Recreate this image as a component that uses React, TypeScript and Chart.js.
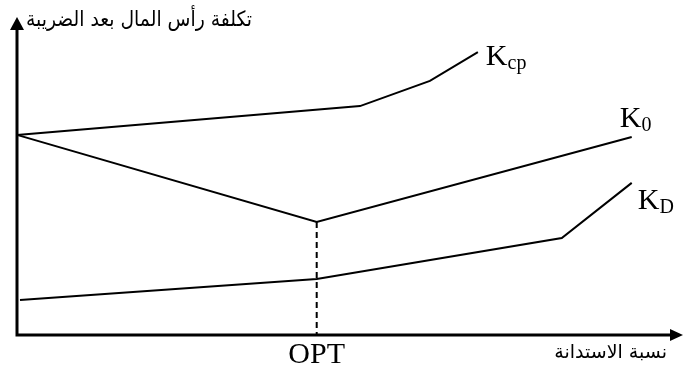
import React, { useEffect, useRef } from 'react';
import { Chart, registerables } from 'chart.js';
Chart.register(...registerables);

// Debt ratio (x) and after-tax cost of capital (y) for each curve
const debtRatioKcp = [0, 51.5, 62, 69.2];
const costKcp = [66.7, 76.3, 84.7, 94.3];
const debtRatioK0 = [0, 45, 92.3];
const costK0 = [66.7, 37.7, 66];
const debtRatioKD = [0.45, 45, 81.8, 92.3];
const costKD = [11.7, 18.7, 32.3, 50.7];
const optRatio = 45;
const optCost = 37.7;
const seriesMain = ['K', 'K', 'K'];
const seriesSub = ['cp', '0', 'D'];
const yAxisTitle = 'تكلفة رأس المال بعد الضريبة';
const xAxisTitle = 'نسبة الاستدانة';
const optLabel = 'OPT';

const toPts = (xs: number[], ys: number[]) => xs.map((x, i) => ({ x, y: ys[i] }));

const labelOffsets = [
  { dx: 8, dy: 13 },
  { dx: -12, dy: -10 },
  { dx: 6, dy: 26 },
];

function drawFitted(
  ctx: CanvasRenderingContext2D,
  text: string,
  font: string,
  rightX: number,
  baseline: number,
  target: number
) {
  ctx.save();
  ctx.font = font;
  ctx.direction = 'rtl';
  ctx.textAlign = 'right';
  ctx.textBaseline = 'alphabetic';
  const w = ctx.measureText(text).width;
  const s = Math.min(1, target / w);
  ctx.translate(rightX, baseline);
  ctx.scale(s, 1);
  ctx.fillText(text, 0, 0);
  ctx.restore();
}

const drawPlugin = {
  id: 'decor',
  afterDatasetsDraw(chart: any) {
    const ctx: CanvasRenderingContext2D = chart.ctx;
    const xs = chart.scales.x;
    const ys = chart.scales.y;
    const x0 = xs.getPixelForValue(0);
    const y0 = ys.getPixelForValue(0);
    const right = chart.chartArea.right;
    const top = chart.chartArea.top;
    ctx.save();
    ctx.strokeStyle = '#000';
    ctx.fillStyle = '#000';

    // dashed OPT line
    const ox = xs.getPixelForValue(optRatio);
    ctx.setLineDash([6, 4]);
    ctx.lineWidth = 2;
    ctx.beginPath();
    ctx.moveTo(ox, ys.getPixelForValue(optCost));
    ctx.lineTo(ox, y0);
    ctx.stroke();
    ctx.setLineDash([]);

    // axes
    ctx.lineWidth = 3;
    ctx.beginPath();
    ctx.moveTo(x0, y0 + 1.5);
    ctx.lineTo(x0, top - 6);
    ctx.moveTo(x0 - 1.5, y0);
    ctx.lineTo(right - 12, y0);
    ctx.stroke();
    ctx.beginPath();
    ctx.moveTo(x0 - 7, top - 5);
    ctx.lineTo(x0 + 7, top - 5);
    ctx.lineTo(x0, top - 18);
    ctx.closePath();
    ctx.fill();
    ctx.beginPath();
    ctx.moveTo(right - 13, y0 - 6);
    ctx.lineTo(right - 13, y0 + 6);
    ctx.lineTo(right, y0);
    ctx.closePath();
    ctx.fill();

    // OPT label
    ctx.font = '30px "Liberation Serif", "Times New Roman", serif';
    ctx.textAlign = 'center';
    ctx.textBaseline = 'alphabetic';
    ctx.fillText(optLabel, ox, y0 + 28);

    // series labels
    chart.data.datasets.forEach((ds: any, i: number) => {
      const last = ds.data[ds.data.length - 1];
      const px = xs.getPixelForValue(last.x) + labelOffsets[i].dx;
      const py = ys.getPixelForValue(last.y) + labelOffsets[i].dy;
      ctx.textAlign = 'left';
      ctx.font = '30px "Liberation Serif", "Times New Roman", serif';
      ctx.fillText(seriesMain[i], px, py);
      const w = ctx.measureText(seriesMain[i]).width;
      ctx.font = '20px "Liberation Serif", "Times New Roman", serif';
      ctx.fillText(seriesSub[i], px + w, py + 4);
    });
    ctx.restore();

    // Arabic axis titles
    const fam = '"DejaVu Sans", serif';
    drawFitted(ctx, yAxisTitle, `21px ${fam}`, 252, top - 9, 226);
    drawFitted(ctx, xAxisTitle, `19px ${fam}`, 667, y0 + 23, 116);
  },
};

export default function App() {
  const ref = useRef<HTMLCanvasElement>(null);
  useEffect(() => {
    const lineStyle = {
      borderColor: '#000',
      borderWidth: 2,
      pointRadius: 0,
      fill: false,
      tension: 0,
      clip: false as any,
    };
    const chart = new Chart(ref.current!, {
      type: 'line',
      data: {
        datasets: [
          { label: 'Kcp', data: toPts(debtRatioKcp, costKcp), ...lineStyle },
          { label: 'K0', data: toPts(debtRatioK0, costK0), ...lineStyle },
          { label: 'KD', data: toPts(debtRatioKD, costKD), ...lineStyle },
        ],
      },
      options: {
        animation: false,
        responsive: true,
        maintainAspectRatio: false,
        layout: { padding: { left: 17, right: 0, top: 35, bottom: 34 } },
        plugins: { legend: { display: false }, tooltip: { enabled: false } },
        scales: {
          x: { type: 'linear', min: 0, max: 100, display: false },
          y: { type: 'linear', min: 0, max: 100, display: false },
        },
      },
      plugins: [drawPlugin],
    });
    return () => chart.destroy();
  }, []);
  return (
    <div style={{ position: 'fixed', left: 0, top: 0, width: 683, height: 369, background: '#fff' }}>
      <canvas ref={ref} />
    </div>
  );
}
